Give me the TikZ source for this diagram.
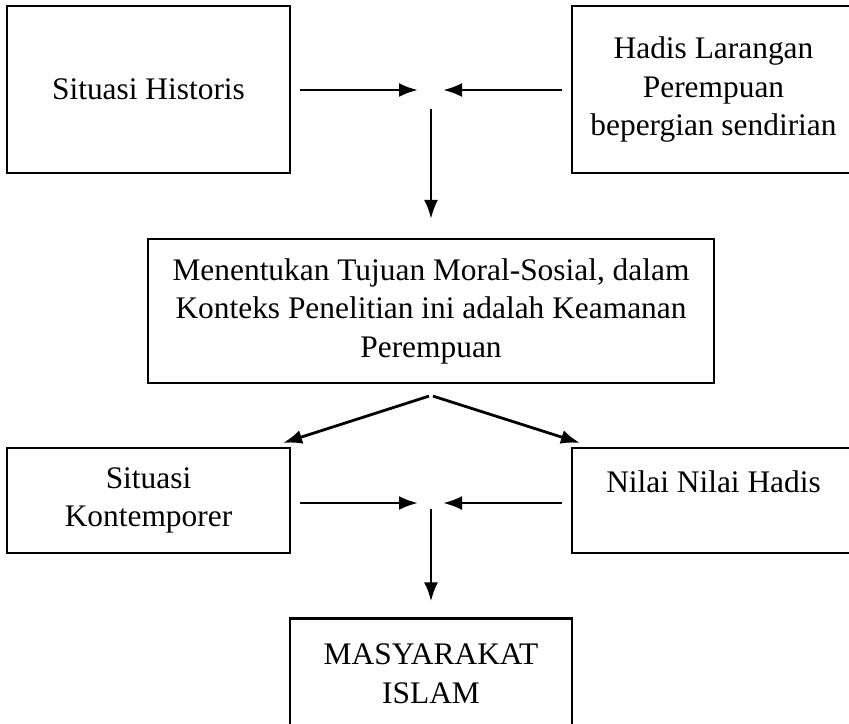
\documentclass[tikz,border=0pt]{standalone}
\usepackage{fontspec}
\setmainfont{Liberation Serif}
\usetikzlibrary{arrows.meta,calc}

\tikzset{
	box/.style={draw, line width=1.1pt, align=center, inner sep=0pt,
		font=\fontsize{15.7}{19.25}\selectfont},
	flow/.style={-{Latex[length=9.5pt,width=7pt]}, line width=1.4pt}
}

\begin{document}
\begin{tikzpicture}[x=0.5pt,y=-0.5pt]
	% Frame
	\clip (0,0) rectangle (849,723);
	
	% Boxes, top row
	\node[box, minimum width=141.5pt, minimum height=83.5pt] (hist) at (148.5,89.5) {Situasi Historis};
	\node[box, minimum width=141.5pt, minimum height=83.5pt] (hadis) at (713.5,89.5) {Hadis Larangan\\Perempuan\\bepergian sendirian};
	
	% Middle box
	\node[box, minimum width=283pt, minimum height=72pt] (tujuan) at (431,311) {Menentukan Tujuan Moral-Sosial, dalam\\Konteks Penelitian ini adalah Keamanan\\Perempuan};
	
	% Boxes, bottom row
	\node[box, minimum width=141.5pt, minimum height=52.5pt] (kontemp) at (148.5,500.5) {Situasi\\Kontemporer};
	\node[box, minimum width=141.5pt, minimum height=52.5pt] (nilai) at (713.5,500.5) {Nilai Nilai Hadis\\\phantom{X}};
	\node[box, minimum width=141pt, minimum height=55pt] (islam) at (431,673.5) {MASYARAKAT\\ISLAM};
	
	% Meeting points
	\coordinate (j1) at (431,90);
	\coordinate (j2) at (431,503);
	
	% Arrows, top
	\draw[flow, shorten <=4.5pt, shorten >=6.5pt] (hist.east |- j1) -- (j1);
	\draw[flow, shorten <=4.5pt, shorten >=6pt] (hadis.west |- j1) -- (j1);
	\draw[flow, shorten <=9.5pt, shorten >=9.5pt] (j1) -- (tujuan.north);
	
	% Arrows, middle
	\draw[flow] ([xshift=-1pt,yshift=-6pt]tujuan.south) -- ([xshift=-4pt,yshift=2pt]kontemp.north east);
	\draw[flow] ([xshift=1pt,yshift=-6pt]tujuan.south) -- ([xshift=4.5pt,yshift=2pt]nilai.north west);
	
	% Arrows, bottom
	\draw[flow, shorten <=4.5pt, shorten >=6.5pt] (kontemp.east |- j2) -- (j2);
	\draw[flow, shorten <=4.5pt, shorten >=6pt] (nilai.west |- j2) -- (j2);
	\draw[flow, shorten <=3pt, shorten >=8pt] (j2) -- (islam.north);
\end{tikzpicture}
\end{document}
